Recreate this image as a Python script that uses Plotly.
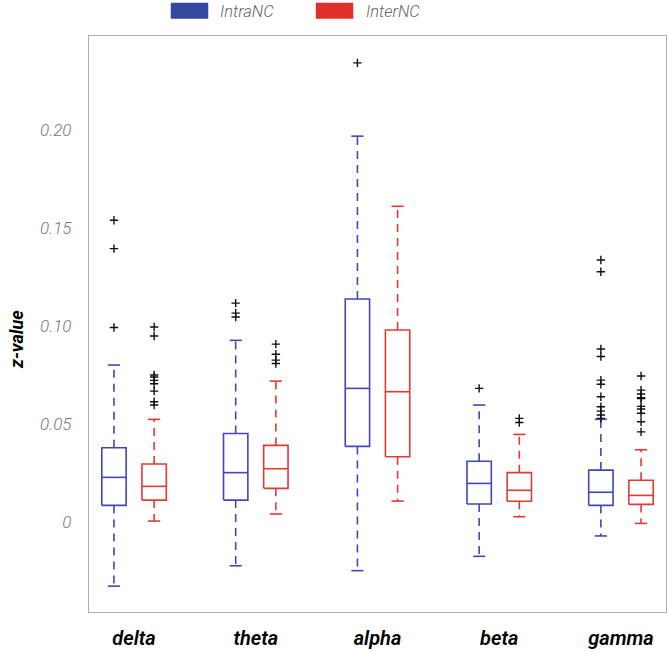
import plotly.graph_objects as go

categories = ["delta", "theta", "alpha", "beta", "gamma"]

intra_lower = [-0.0327, -0.0223, -0.0248, -0.0175, -0.0071]
intra_q1 = [0.0085, 0.0112, 0.0386, 0.0092, 0.0085]
intra_median = [0.0228, 0.0252, 0.0682, 0.0197, 0.0152]
intra_q3 = [0.0379, 0.0452, 0.1138, 0.0310, 0.0265]
intra_upper = [0.0801, 0.0927, 0.1969, 0.0597, 0.0524]

inter_lower = [0.0005, 0.0041, 0.0107, 0.0027, -0.0007]
inter_q1 = [0.0112, 0.0172, 0.0333, 0.0106, 0.0090]
inter_median = [0.0182, 0.0272, 0.0665, 0.0162, 0.0136]
inter_q3 = [0.0296, 0.0391, 0.0980, 0.0252, 0.0213]
inter_upper = [0.0524, 0.0719, 0.1611, 0.0447, 0.0369]

intra_out_delta = [0.154, 0.1395, 0.0993]
intra_out_theta = [0.1117, 0.1066, 0.1046]
intra_out_alpha = [0.2343]
intra_out_beta = [0.0682]
intra_out_gamma = [0.1337, 0.1277, 0.0883, 0.0845, 0.0724, 0.0703, 0.0639, 0.0588, 0.0566, 0.0546, 0.0529]

inter_out_delta = [0.0995, 0.0949, 0.075, 0.074, 0.0723, 0.0706, 0.0668, 0.0614, 0.0597]
inter_out_theta = [0.0908, 0.0856, 0.0826, 0.0809]
inter_out_alpha = []
inter_out_beta = [0.0529, 0.0508]
inter_out_gamma = [0.0745, 0.0673, 0.0653, 0.0634, 0.063, 0.059, 0.0577, 0.0555, 0.0512, 0.046]

y_tickvals = [0, 0.05, 0.10, 0.15, 0.20]
y_ticktext = ["0", "0.05", "0.10", "0.15", "0.20"]

series_names = ["IntraNC", "InterNC"]
BLUE = "#4247b8"
RED = "#e53935"
LEG_BLUE = "#3449a0"
LEG_RED = "#e0302a"

OFFSET = 0.165
HALF_W = 0.1
CAP_W = 0.05

W, H = 669, 652
ML, MR, MT, MB = 89, 3, 36, 40
PW, PH = W - ML - MR, H - MT - MB

fig = go.Figure()


def add_series(lower, q1, med, q3, upper, outs, off, color):
    bx, by, wx, wy, cx, cy, ox, oy = [], [], [], [], [], [], [], []
    for i in range(len(categories)):
        c = i + off
        bx += [c - HALF_W, c + HALF_W, c + HALF_W, c - HALF_W, c - HALF_W, None,
               c - HALF_W, c + HALF_W, None]
        by += [q1[i], q1[i], q3[i], q3[i], q1[i], None, med[i], med[i], None]
        wx += [c, c, None, c, c, None]
        wy += [q3[i], upper[i], None, q1[i], lower[i], None]
        cx += [c - CAP_W, c + CAP_W, None, c - CAP_W, c + CAP_W, None]
        cy += [upper[i], upper[i], None, lower[i], lower[i], None]
        for v in outs[i]:
            ox.append(c)
            oy.append(v)
    fig.add_trace(go.Scatter(x=wx, y=wy, mode="lines", showlegend=False, hoverinfo="skip",
                             line=dict(color=color, width=1.6, dash="8px,6px")))
    fig.add_trace(go.Scatter(x=cx, y=cy, mode="lines", showlegend=False, hoverinfo="skip",
                             line=dict(color=color, width=1.6)))
    fig.add_trace(go.Scatter(x=bx, y=by, mode="lines", showlegend=False, hoverinfo="skip",
                             line=dict(color=color, width=1.6)))
    fig.add_trace(go.Scatter(x=ox, y=oy, mode="markers", showlegend=False,
                             marker=dict(symbol="cross-thin", size=6, color="black",
                                         line=dict(color="#111111", width=1.4))))


add_series(intra_lower, intra_q1, intra_median, intra_q3, intra_upper,
           [intra_out_delta, intra_out_theta, intra_out_alpha, intra_out_beta, intra_out_gamma],
           -OFFSET, BLUE)
add_series(inter_lower, inter_q1, inter_median, inter_q3, inter_upper,
           [inter_out_delta, inter_out_theta, inter_out_alpha, inter_out_beta, inter_out_gamma],
           OFFSET, RED)

# legend drawn as rectangles + text (pixel layout converted to paper coords)
leg = [(series_names[0], LEG_BLUE, 171, 208, 220), (series_names[1], LEG_RED, 316, 353, 366)]


def px(x):
    return (x - ML) / PW


def py(y):
    return (H - MB - y) / PH


for name, col, x0, x1, tx in leg:
    fig.add_shape(type="rect", xref="paper", yref="paper",
                  x0=px(x0), x1=px(x1), y0=py(3), y1=py(18.5),
                  fillcolor=col, line=dict(color=col, width=0.5))
    fig.add_annotation(text=name, xref="paper", yref="paper",
                       x=px(tx - 2), y=py(11), xanchor="left", yanchor="middle", showarrow=False,
                       font=dict(family="Roboto", size=16.5, color="#666666", style="italic", weight=300))

fig.add_annotation(text="z-value", xref="paper", yref="paper", x=px(16), y=py(340),
                   xanchor="center", yanchor="middle", textangle=-90, showarrow=False,
                   font=dict(family="Roboto", size=18, color="black", style="italic", weight="bold"))

fig.update_layout(
    width=W, height=H,
    margin=dict(l=ML, r=MR, t=MT, b=MB),
    paper_bgcolor="white", plot_bgcolor="white",
    showlegend=False,
)
fig.update_xaxes(
    range=[-0.37, 4.37], tickmode="array", tickvals=list(range(len(categories))),
    ticktext=categories, showgrid=False, zeroline=False, ticks="", automargin=False,
    ticklabelstandoff=8,
    showline=True, linecolor="#b0b0b0", linewidth=1.2, mirror=True,
    tickfont=dict(family="Roboto", size=20, color="black", style="italic", weight=600),
)
fig.update_yaxes(
    range=[-0.0459, 0.248], tickmode="array", tickvals=y_tickvals, ticktext=y_ticktext,
    showgrid=False, zeroline=False, ticks="", automargin=False, ticklabelstandoff=13,
    showline=True, linecolor="#b0b0b0", linewidth=1.2, mirror=True,
    tickfont=dict(family="Roboto", size=17, color="#777777", style="italic", weight=300),
)

fig.write_html("out.html", config={"displayModeBar": False},
               post_script="document.body.style.margin='0';")
